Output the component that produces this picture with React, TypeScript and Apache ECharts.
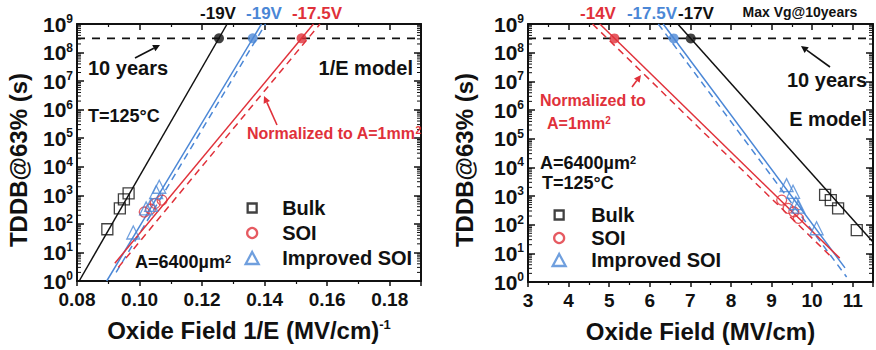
import React, { useEffect, useRef } from "react";
import * as echarts from "echarts";

const FONT = "'Liberation Sans', Arial, Helvetica, sans-serif";
const BLACK = "#111111";
const RED = "#e0313a";
const BLUE = "#4b87d6";

const TEN_YEARS_S = 3.15e8;

// ---------- Left panel : 1/E model (x = 1/E, (MV/cm)^-1) ----------
const leftXTicks = [0.08, 0.1, 0.12, 0.14, 0.16, 0.18];
const leftBulkPts = [[0.0897, 65], [0.0937, 350], [0.095, 720], [0.0965, 1170]];
const leftSoiPts = [[0.1015, 260], [0.1035, 330], [0.105, 520], [0.1072, 680]];
const leftImpPts = [[0.098, 50], [0.1021, 350], [0.1037, 460], [0.1053, 1300], [0.1063, 2000]];
const leftBulkFit = [[0.0807, 1], [0.128, 1e9]];
const leftImpFit = [[0.0895, 1], [0.139, 1e9]];
const leftImpNorm = [[0.0925, 2], [0.1403, 1e9]];
const leftSoiFit = [[0.0921, 4.2], [0.1556, 1e9]];
const leftSoiNorm = [[0.0932, 3], [0.1577, 1e9]];
const leftTenYearX = { bulk: 0.1254, imp: 0.1362, soi: 0.1518 };

// ---------- Right panel : E model (x = E, MV/cm) ----------
const rightXTicks = [3, 4, 5, 6, 7, 8, 9, 10, 11];
const rightBulkPts = [[10.32, 1100], [10.46, 720], [10.64, 370], [11.1, 65]];
const rightSoiPts = [[9.25, 720], [9.41, 370], [9.55, 280], [9.66, 166]];
const rightImpPts = [[9.37, 2400], [9.53, 1400], [9.6, 560], [9.66, 425], [10.11, 75]];
const rightBulkFit = [[6.69, 1e9], [11.5, 25]];
const rightImpFit = [[6.33, 1e9], [10.81, 3.1]];
const rightImpNorm = [[6.21, 1e9], [10.85, 1.5]];
const rightSoiFit = [[4.77, 1e9], [10.68, 6.8]];
const rightSoiNorm = [[4.59, 1e9], [10.5, 6.9]];
const rightTenYearX = { bulk: 7.01, imp: 6.59, soi: 5.13 };

// minor tick positions of the logarithmic time axis (2..9 x 10^n)
const decades = [0, 1, 2, 3, 4, 5, 6, 7, 8];
const minorMultipliers = [2, 3, 4, 5, 6, 7, 8, 9];
const logMinorTicks: number[] = [];
decades.forEach((n) => minorMultipliers.forEach((k) => logMinorTicks.push(k * Math.pow(10, n))));

const yTickRich = {
  b: { fontSize: 21, fontWeight: "bold", fontFamily: FONT, color: BLACK, lineHeight: 22 },
  s: { fontSize: 12, fontWeight: "bold", fontFamily: FONT, color: BLACK, verticalAlign: "top", lineHeight: 12 },
};

function yLabel(v: number) {
  return `{b|10}{s|${Math.round(Math.log10(v))}}`;
}

const axisLineStyle = { show: true, onZero: false, lineStyle: { color: BLACK, width: 2 } };

function xAxes(grid: number, min: number, max: number, interval: number, ticks: number[], digits: number, name: string) {
  const fmt = (v: number) => (ticks.some((t) => Math.abs(t - v) < 1e-9) ? v.toFixed(digits) : "");
  return [
    {
      type: "value",
      gridIndex: grid,
      position: "bottom",
      min,
      max,
      interval,
      axisLine: axisLineStyle,
      axisTick: { show: true, inside: false, length: 5, lineStyle: { color: BLACK, width: 1.5 } },
      minorTick: { show: true, splitNumber: 2, length: 3, lineStyle: { color: BLACK, width: 1.2 } },
      splitLine: { show: false },
      minorSplitLine: { show: false },
      axisLabel: { formatter: fmt, fontSize: 19, fontWeight: "bold", fontFamily: FONT, color: BLACK, margin: 9 },
      name,
      nameLocation: "middle",
      nameGap: 37,
      nameTextStyle: {
        fontSize: 24,
        fontWeight: "bold",
        fontFamily: FONT,
        color: BLACK,
        rich: { s: { fontSize: 13, fontWeight: "bold", fontFamily: FONT, color: BLACK, verticalAlign: "top", lineHeight: 12 } },
      },
    },
    {
      type: "value",
      gridIndex: grid,
      position: "top",
      min,
      max,
      interval,
      axisLine: axisLineStyle,
      axisTick: { show: true, inside: true, length: 6, lineStyle: { color: BLACK, width: 1.5 } },
      minorTick: { show: true, splitNumber: 2, length: 3, lineStyle: { color: BLACK, width: 1.2 } },
      splitLine: { show: false },
      axisLabel: { show: false },
    },
  ];
}

function yAxes(grid: number) {
  const base = {
    type: "log",
    logBase: 10,
    gridIndex: grid,
    min: 1,
    max: 1e9,
    splitNumber: 9,
    axisLine: axisLineStyle,
    axisTick: { show: true, inside: true, length: 7, lineStyle: { color: BLACK, width: 1.5 } },
    minorTick: { show: false },
    splitLine: { show: false },
    minorSplitLine: { show: false },
  };
  return [
    {
      ...base,
      position: "left",
      axisLabel: { formatter: yLabel, rich: yTickRich, margin: 4 },
    },
    { ...base, position: "right", axisLabel: { show: false } },
  ];
}

function minorTickSeries(xmin: number, xmax: number, xi: number, yi: number) {
  return {
    type: "custom",
    xAxisIndex: xi,
    yAxisIndex: yi,
    silent: true,
    z: 4,
    dimensions: ["x", "y", "x2"],
    encode: { x: 0, y: 1 },
    data: logMinorTicks.map((v) => [xmin, v, xmax]),
    renderItem: (_p: any, api: any) => {
      const v = api.value(1);
      const pl = api.coord([api.value(0), v]);
      const pr = api.coord([api.value(2), v]);
      const st = { stroke: BLACK, lineWidth: 1 };
      return {
        type: "group",
        children: [
          { type: "line", shape: { x1: pl[0], y1: pl[1], x2: pl[0] + 4, y2: pl[1] }, style: st },
          { type: "line", shape: { x1: pr[0] - 4, y1: pr[1], x2: pr[0], y2: pr[1] }, style: st },
        ],
      };
    },
  };
}

function fitLine(data: number[][], color: string, dashed: boolean, xi: number, yi: number) {
  return {
    type: "line",
    xAxisIndex: xi,
    yAxisIndex: yi,
    data,
    symbol: "none",
    silent: true,
    z: 3,
    lineStyle: { color, width: 1.5, type: dashed ? [7, 5] : "solid" },
  };
}

function markers(name: string, data: number[][], symbol: string, size: number, color: string, xi: number, yi: number) {
  return {
    type: "scatter",
    name,
    xAxisIndex: xi,
    yAxisIndex: yi,
    data,
    symbol,
    symbolSize: size,
    z: 5,
    itemStyle: { color: "rgba(0,0,0,0)", borderColor: color, borderWidth: 1.3 },
  };
}

function tenYearLine(xmin: number, xmax: number, xi: number, yi: number) {
  return {
    type: "line",
    xAxisIndex: xi,
    yAxisIndex: yi,
    data: [[xmin, TEN_YEARS_S], [xmax, TEN_YEARS_S]],
    symbol: "none",
    silent: true,
    z: 2,
    lineStyle: { color: BLACK, width: 1.6, type: [8, 7] },
  };
}

function tenYearDots(xs: { bulk: number; imp: number; soi: number }, xi: number, yi: number) {
  return {
    type: "scatter",
    xAxisIndex: xi,
    yAxisIndex: yi,
    symbolSize: 10,
    z: 6,
    silent: true,
    data: [
      { value: [xs.bulk, TEN_YEARS_S], itemStyle: { color: BLACK } },
      { value: [xs.imp, TEN_YEARS_S], itemStyle: { color: BLUE } },
      { value: [xs.soi, TEN_YEARS_S], itemStyle: { color: RED } },
    ],
  };
}

function legendItem(name: string, icon: string, color: string, left: number, center: number, w: number, h: number, pad: number) {
  return {
    show: true,
    orient: "vertical",
    left,
    top: center - 11,
    padding: 0,
    itemWidth: w,
    itemHeight: h,
    itemGap: 0,
    selectedMode: false,
    data: [{ name, icon, itemStyle: { color: "#ffffff", borderColor: color, borderWidth: 2.3 } }],
    textStyle: { fontSize: 20, fontWeight: "bold", fontFamily: FONT, color: BLACK, padding: [0, 0, 0, pad], lineHeight: 22 },
  };
}

function txt(text: string, x: number, y: number, opts: any = {}) {
  return {
    type: "text",
    x,
    y,
    z: 100,
    rotation: opts.rotation || 0,
    style: {
      text,
      fill: opts.color || BLACK,
      fontSize: opts.size || 18,
      fontWeight: "bold",
      fontFamily: FONT,
      align: opts.align || "left",
      verticalAlign: "middle",
      rich: {
        s: {
          fontSize: Math.round((opts.size || 18) * 0.62),
          fontWeight: "bold",
          fontFamily: FONT,
          fill: opts.color || BLACK,
          verticalAlign: "top",
          lineHeight: 10,
        },
      },
    },
  };
}

function arrow(x1: number, y1: number, x2: number, y2: number, color: string) {
  const ang = Math.atan2(y2 - y1, x2 - x1);
  const L = 7;
  const W = 3.5;
  const bx = x2 - L * Math.cos(ang);
  const by = y2 - L * Math.sin(ang);
  const px = -Math.sin(ang) * W;
  const py = Math.cos(ang) * W;
  return [
    { type: "line", z: 100, shape: { x1, y1, x2: bx, y2: by }, style: { stroke: color, lineWidth: 1.6 } },
    { type: "polygon", z: 100, shape: { points: [[x2, y2], [bx + px, by + py], [bx - px, by - py]] }, style: { fill: color } },
  ];
}

export default function App() {
  const ref = useRef<HTMLDivElement>(null);
  useEffect(() => {
    document.body.style.margin = "0";
    if (!ref.current) return;
    const chart = echarts.init(ref.current, undefined, { renderer: "svg" });
    const option: any = {
      animation: false,
      backgroundColor: "#ffffff",
      grid: [
        { left: 77, top: 24, width: 344, height: 257 },
        { left: 528, top: 24, width: 345, height: 258 },
      ],
      xAxis: [
        ...xAxes(0, 0.08, 0.19, 0.02, leftXTicks, 2, "Oxide Field 1/E (MV/cm){s|-1}"),
        ...xAxes(1, 3, 11.5, 1, rightXTicks, 0, "Oxide Field (MV/cm)"),
      ],
      yAxis: [...yAxes(0), ...yAxes(1)],
      legend: [
        legendItem("Bulk", "rect", BLACK, 246.5, 208, 9, 9, 20.5),
        legendItem("SOI", "circle", RED, 246, 233, 10, 10, 20),
        legendItem("Improved SOI", "triangle", BLUE, 244.5, 258, 13, 12, 18.5),
        legendItem("Bulk", "rect", BLACK, 553.5, 215, 9, 9, 22.5),
        legendItem("SOI", "circle", RED, 553, 238, 10, 10, 22),
        legendItem("Improved SOI", "triangle", BLUE, 551.5, 260, 13, 12, 20.5),
      ],
      series: [
        minorTickSeries(0.08, 0.19, 0, 0),
        tenYearLine(0.08, 0.19, 0, 0),
        fitLine(leftBulkFit, BLACK, false, 0, 0),
        fitLine(leftImpFit, BLUE, false, 0, 0),
        fitLine(leftImpNorm, BLUE, true, 0, 0),
        fitLine(leftSoiFit, RED, false, 0, 0),
        fitLine(leftSoiNorm, RED, true, 0, 0),
        markers("Bulk", leftBulkPts, "rect", 11, BLACK, 0, 0),
        markers("SOI", leftSoiPts, "circle", 10, RED, 0, 0),
        markers("Improved SOI", leftImpPts, "triangle", 13, BLUE, 0, 0),
        tenYearDots(leftTenYearX, 0, 0),

        minorTickSeries(3, 11.5, 2, 2),
        tenYearLine(3, 11.5, 2, 2),
        fitLine(rightBulkFit, BLACK, false, 2, 2),
        fitLine(rightImpFit, BLUE, false, 2, 2),
        fitLine(rightImpNorm, BLUE, true, 2, 2),
        fitLine(rightSoiFit, RED, false, 2, 2),
        fitLine(rightSoiNorm, RED, true, 2, 2),
        markers("Bulk", rightBulkPts, "rect", 11, BLACK, 2, 2),
        markers("SOI", rightSoiPts, "circle", 10, RED, 2, 2),
        markers("Improved SOI", rightImpPts, "triangle", 13, BLUE, 2, 2),
        tenYearDots(rightTenYearX, 2, 2),
      ],
      graphic: [
        // Y axis titles
        txt("TDDB@63% (s)", 18, 160, { size: 24, align: "center", rotation: Math.PI / 2 }),
        txt("TDDB@63% (s)", 464, 160, { size: 24, align: "center", rotation: Math.PI / 2 }),
        // Left panel annotations
        txt("-19V", 218, 13, { size: 17, align: "center" }),
        txt("-19V", 264, 13, { size: 17, align: "center", color: BLUE }),
        txt("-17.5V", 317, 13, { size: 17, align: "center", color: RED }),
        txt("10 years", 88, 68, { size: 20 }),
        txt("1/E model", 413, 68, { size: 20, align: "right" }),
        txt("T=125°C", 88, 116, { size: 18 }),
        txt("Normalized to A=1mm{s|2}", 247, 133, { size: 16, color: RED }),
        txt("A=6400µm{s|2}", 135, 262, { size: 18 }),
        ...arrow(135, 58, 160, 45, BLACK),
        ...arrow(277, 125, 264, 96, RED),
        // Right panel annotations
        txt("-14V", 598, 13, { size: 17, align: "center", color: RED }),
        txt("-17.5V", 652, 13, { size: 17, align: "center", color: BLUE }),
        txt("-17V", 696, 13, { size: 17, align: "center" }),
        txt("Max Vg@10years", 800, 12, { size: 14, align: "center" }),
        txt("10 years", 787, 80, { size: 20 }),
        txt("E model", 867, 119, { size: 20, align: "right" }),
        txt("Normalized to", 540, 100, { size: 16, color: RED }),
        txt("A=1mm{s|2}", 547, 123, { size: 16, color: RED }),
        txt("A=6400µm{s|2}", 540, 163, { size: 18 }),
        txt("T=125°C", 542, 183, { size: 18 }),
        ...arrow(830, 67, 801, 46, BLACK),
        ...arrow(632, 87, 641, 75, RED),
      ],
    };
    chart.setOption(option);
    return () => chart.dispose();
  }, []);
  return <div ref={ref} style={{ width: 876, height: 350 }} />;
}
